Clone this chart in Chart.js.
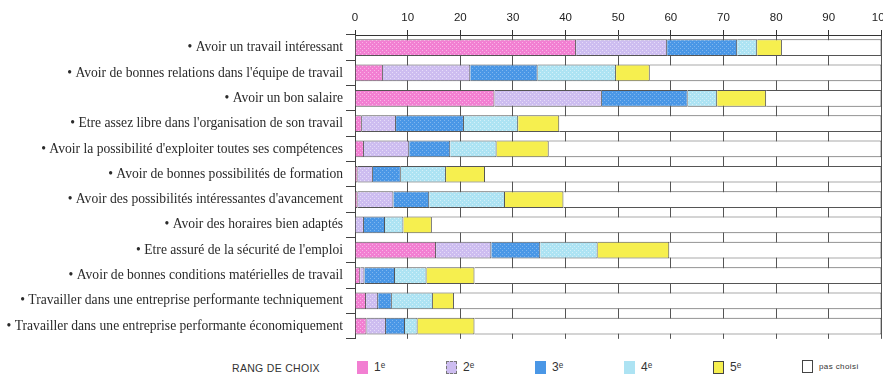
<!DOCTYPE html>
<html lang="fr">
<head>
<meta charset="utf-8">
<title>Rang de choix</title>
<script src="https://cdn.jsdelivr.net/npm/chart.js@4.4.0/dist/chart.umd.min.js"></script>
<style>
  html, body { margin: 0; padding: 0; background: #fff; overflow: hidden; }
  #wrap { position: relative; width: 883px; height: 385px; overflow: hidden; }
  #chartBox { position: absolute; left: 0; top: 0; width: 896px; height: 350px; }
  #legend { position: absolute; left: 0; top: 360px; width: 883px; height: 20px;
            font-family: "Liberation Sans", Arial, sans-serif; color: #333; }
  #legend .title { position: absolute; left: 232px; top: 2px; font-size: 10.5px; letter-spacing: 0.3px; }
  #legend .item { position: absolute; top: 0; display: flex; align-items: center; font-size: 12px; }
  #legend .swatch { width: 11px; height: 13px; box-sizing: border-box; margin-right: 6px; }
  #legend .small { font-size: 8px; letter-spacing: 0.4px; }
</style>
</head>
<body>
<div id="wrap">
  <div id="chartBox"><canvas id="chart"></canvas></div>
  <div id="legend"><span class="title">RANG DE CHOIX</span></div>
</div>
<script>
// data (% of respondents)
const categories = [
  '• Avoir un travail intéressant',
  '• Avoir de bonnes relations dans l\'équipe de travail',
  '• Avoir un bon salaire',
  '• Etre assez libre dans l\'organisation de son travail',
  '• Avoir la possibilité d\'exploiter toutes ses compétences',
  '• Avoir de bonnes possibilités de formation',
  '• Avoir des possibilités intéressantes d\'avancement',
  '• Avoir des horaires bien adaptés',
  '• Etre assuré de la sécurité de l\'emploi',
  '• Avoir de bonnes conditions matérielles de travail',
  '• Travailler dans une entreprise performante techniquement',
  '• Travailler dans une entreprise performante économiquement'
];
const rank1 = [42, 5.3, 26.5, 1.3, 1.7, 0.5, 0.5, 0, 15.4, 1.0, 2.1, 2.2];
const rank2 = [17.3, 16.6, 20.4, 6.5, 8.6, 2.9, 6.8, 1.7, 10.5, 0.8, 2.3, 3.7];
const rank3 = [13.3, 12.8, 16.3, 12.9, 7.8, 5.3, 6.8, 4.0, 9.3, 5.8, 2.6, 3.6];
const rank4 = [3.8, 14.9, 5.6, 10.3, 8.8, 8.6, 14.4, 3.5, 10.9, 6.0, 7.8, 2.4];
const rank5 = [4.7, 6.4, 9.3, 7.8, 9.9, 7.4, 11.1, 5.4, 13.6, 9.1, 4.0, 10.8];
const notChosen = [18.9, 44, 21.9, 61.2, 63.2, 75.3, 60.4, 85.4, 40.3, 77.3, 81.2, 77.3];

const seriesLabels = ['1ᵉ', '2ᵉ', '3ᵉ', '4ᵉ', '5ᵉ', 'pas choisi'];
const xTicks = [0, 10, 20, 30, 40, 50, 60, 70, 80, 90, 100];

document.addEventListener('DOMContentLoaded', () => {
  const colors = ['#f27fd2', '#cdbdf0', '#4a97e6', '#ade3f3', '#f6ef4f', '#ffffff'];
  const series = [rank1, rank2, rank3, rank4, rank5, notChosen];

  // halftone-like dot fill, like the printed screen in the scan
  function dotted(base, dot) {
    const c = document.createElement('canvas');
    c.width = 4; c.height = 4;
    const g = c.getContext('2d');
    g.fillStyle = base;
    g.fillRect(0, 0, 4, 4);
    g.fillStyle = dot;
    g.fillRect(0, 0, 1, 1);
    g.fillRect(2, 2, 1, 1);
    return g.createPattern(c, 'repeat');
  }
  const fills = [
    dotted('#f27fd2', '#f9b5e6'),
    dotted('#cdbdf0', '#e6dcf8'),
    dotted('#4a97e6', '#7fb6ee'),
    dotted('#ade3f3', '#d3f0f8'),
    '#f6ef4f',
    '#ffffff'
  ];

  const datasets = series.map((data, i) => ({
    label: seriesLabels[i],
    data,
    backgroundColor: fills[i],
    borderColor: '#555',
    borderWidth: { top: 1, bottom: 1, left: 0, right: 1 },
    borderSkipped: false,
    barPercentage: 0.66,
    categoryPercentage: 1
  }));

  const ctx = document.getElementById('chart').getContext('2d');
  new Chart(ctx, {
    type: 'bar',
    data: { labels: categories, datasets },
    options: {
      indexAxis: 'y',
      responsive: true,
      maintainAspectRatio: false,
      animation: false,
      layout: { padding: { top: 0, bottom: 5, left: 0, right: 0 } },
      scales: {
        x: {
          position: 'top',
          stacked: true,
          min: 0,
          max: 100,
          afterBuildTicks: (scale) => { scale.ticks = xTicks.map(v => ({ value: v })); },
          afterFit: (scale) => { scale.height = 35; },
          border: { display: true, color: '#333', width: 1 },
          grid: { color: '#555', lineWidth: 1, tickLength: 5, tickColor: '#333' },
          ticks: {
            padding: 5,
            color: '#222',
            font: { family: '"Liberation Sans", Arial, sans-serif', size: 11.5 }
          }
        },
        y: {
          stacked: true,
          afterFit: (scale) => { scale.width = 355; },
          border: { display: true, color: '#444', width: 1 },
          grid: { offset: true, drawOnChartArea: false, tickLength: 9, color: '#444' },
          ticks: {
            padding: 3,
            color: '#2a2a2a',
            font: { family: '"Liberation Serif", "Times New Roman", serif', size: 13.6 }
          }
        }
      },
      plugins: {
        legend: { display: false },
        tooltip: { enabled: false }
      }
    }
  });

  // HTML legend under the chart
  const legendEl = document.getElementById('legend');
  seriesLabels.forEach((label, i) => {
    const item = document.createElement('span');
    item.className = 'item';
    item.style.left = (357 + i * 89) + 'px';
    const sw = document.createElement('span');
    sw.className = 'swatch';
    sw.style.background = colors[i];
    sw.style.border = i === 4 || i === 5 ? '1px solid #444' : '1px solid ' + colors[i];
    if (i === 1) sw.style.border = '1px dashed #777';
    const txt = document.createElement('span');
    txt.textContent = label;
    if (i === 5) txt.className = 'small';
    item.appendChild(sw);
    item.appendChild(txt);
    legendEl.appendChild(item);
  });
});
</script>
</body>
</html>
